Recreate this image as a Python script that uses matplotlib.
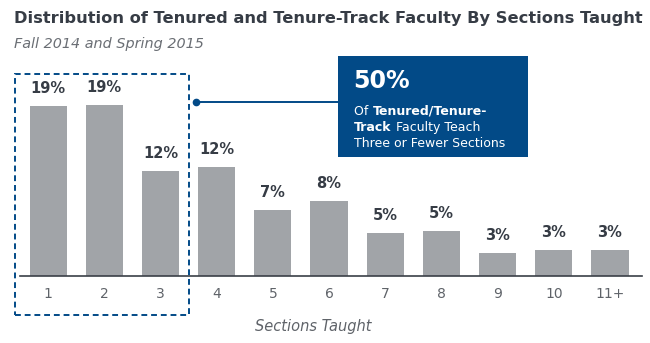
import matplotlib.pyplot as plt
from matplotlib.patches import Rectangle
from matplotlib.lines import Line2D

# data
sections = ['1', '2', '3', '4', '5', '6', '7', '8', '9', '10', '11+']
shares = [19.0, 19.1, 11.7, 12.2, 7.4, 8.4, 4.8, 5.0, 2.6, 2.9, 2.9]
labels = ['19%', '19%', '12%', '12%', '7%', '8%', '5%', '5%', '3%', '3%', '3%']

W, H = 650, 343
BAR = '#a1a4a8'
NAVY = '#024a87'
DARK = '#363c45'
GRAY = '#5f6369'

plt.rcParams['font.family'] = ['DejaVu Sans']


def fx(px):
    return px / W


def fy(py):
    return 1 - py / H


fig = plt.figure(figsize=(6.5, 3.43), dpi=100)
ax = fig.add_axes([fx(20), fy(276), fx(642) - fx(20), fy(60) - fy(276)])

x = list(range(len(sections)))
ax.bar(x, shares, width=0.66, color=BAR)
for xi, v, lab in zip(x, shares, labels):
    ax.text(xi, v + 1.1, lab, ha='center', va='bottom', fontsize=10.5,
            fontweight='bold', color=DARK)

ax.set_xlim(-0.5, 10.57)
ax.set_ylim(0, 24.1)
ax.set_xticks(x)
ax.set_xticklabels(sections, fontsize=10, color=GRAY)
ax.tick_params(axis='x', length=0, pad=8)
ax.set_yticks([])
for s in ['top', 'right', 'left']:
    ax.spines[s].set_visible(False)
ax.spines['bottom'].set_color('#3a3f47')
ax.spines['bottom'].set_linewidth(1.2)

fig.text(fx(313), fy(326), 'Sections Taught', ha='center', va='center',
         fontsize=10.5, style='italic', color=GRAY)

# titles
fig.text(fx(14), fy(18), 'Distribution of Tenured and Tenure-Track Faculty By Sections Taught',
         ha='left', va='center', fontsize=11.7, fontweight='bold', color=DARK)
fig.text(fx(14), fy(44), 'Fall 2014 and Spring 2015', ha='left', va='center',
         fontsize=10.4, style='italic', color='#6a6e74')

# dashed box around 1-3 sections
fig.patches.append(Rectangle((fx(15), fy(315)), fx(189) - fx(15), fy(74) - fy(315),
                             transform=fig.transFigure, fill=False, edgecolor=NAVY,
                             linestyle=(0, (3, 2)), linewidth=1.4))

# connector
fig.lines.append(Line2D([fx(196), fx(340)], [fy(102), fy(102)], transform=fig.transFigure,
                        color=NAVY, linewidth=1.4))
fig.lines.append(Line2D([fx(196)], [fy(102)], transform=fig.transFigure, marker='o',
                        markersize=4.5, color=NAVY))

# callout box
fig.patches.append(Rectangle((fx(338), fy(157)), fx(528) - fx(338), fy(56) - fy(157),
                             transform=fig.transFigure, facecolor=NAVY, edgecolor='none'))
fig.text(fx(353), fy(81), '50%', ha='left', va='center', fontsize=17,
         fontweight='bold', color='white')

line_y = [111, 127, 143]
r = fig.canvas.get_renderer()
a = fig.text(fx(354), fy(line_y[0]), 'Of ', ha='left', va='center', fontsize=9, color='white')
bb = a.get_window_extent(r)
fig.text(bb.x1 / W, fy(line_y[0]), 'Tenured/Tenure-', ha='left', va='center', fontsize=9,
         fontweight='bold', color='white')
b = fig.text(fx(354), fy(line_y[1]), 'Track', ha='left', va='center', fontsize=9,
             fontweight='bold', color='white')
bb = b.get_window_extent(r)
fig.text(bb.x1 / W, fy(line_y[1]), ' Faculty Teach', ha='left', va='center', fontsize=9,
         color='white')
fig.text(fx(354), fy(line_y[2]), 'Three or Fewer Sections', ha='left', va='center',
         fontsize=9, color='white')

fig.savefig('out.png', dpi=100, facecolor='white')
